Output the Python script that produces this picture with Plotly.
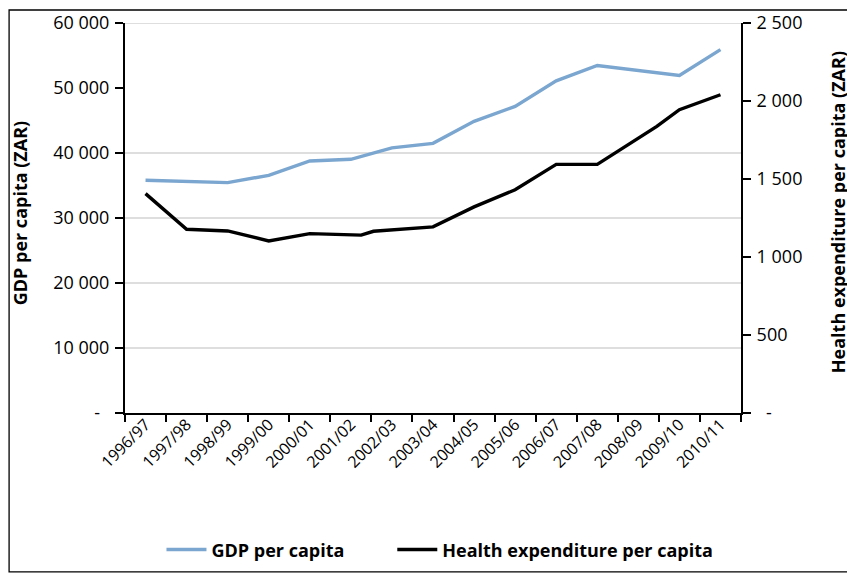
import plotly.graph_objects as go

# ---- data ----
years = ["1996/97", "1997/98", "1998/99", "1999/00", "2000/01", "2001/02", "2002/03",
         "2003/04", "2004/05", "2005/06", "2006/07", "2007/08", "2008/09", "2009/10", "2010/11"]
gdp_per_capita = [35800, 35650, 35450, 36570, 38770, 39030, 40800, 41490,
                  44870, 47170, 51100, 53470, 52700, 51930, 55900]
# health series points sit at (fractional) category positions in the original chart
health_pos = [0, 1, 2, 3, 4, 5.25, 5.55, 7, 8, 9, 10, 11, 12.45, 13, 14]
health_per_capita = [1406, 1178, 1167, 1103, 1150, 1140, 1165, 1193,
                     1321, 1431, 1594, 1594, 1837, 1944, 2040]

left_ticks = [0, 10000, 20000, 30000, 40000, 50000, 60000]
left_labels = ["-\u00a0\u00a0", "10 000", "20 000", "30 000", "40 000", "50 000", "60 000"]
right_ticks = [0, 500, 1000, 1500, 2000, 2500]
right_labels = ["\u00a0\u00a0-", "500", "1 000", "1 500", "2 000", "2 500"]
grid_values = [10000, 20000, 30000, 40000, 60000]

FONT = "Open Sans"
OFF = 8  # page body margin
W, H = 855 - OFF, 579 - OFF
# plot area in reference pixels: x 124.5..741, y 22.5..413
L, T = 124.5 - OFF, 22.5 - OFF
R, B = 855 - 741, 579 - 413
pw, ph = W - L - R, H - T - B

def px_x(p):  # reference pixel -> paper
    return (p - OFF - L) / pw

def px_y(p):
    return (T + ph - (p - OFF)) / ph

cat_idx = list(range(len(years)))
boundaries = [i - 0.5 for i in range(len(years) + 1)]

fig = go.Figure()
fig.add_trace(go.Scatter(
    x=cat_idx, y=gdp_per_capita, name="GDP per capita", mode="lines",
    line=dict(color="#7BA6CF", width=3.4), yaxis="y", legend="legend"))
fig.add_trace(go.Scatter(
    x=health_pos, y=health_per_capita, name="Health expenditure per capita", mode="lines",
    line=dict(color="#000000", width=3.4), yaxis="y2", legend="legend2"))

shapes = []
for g in grid_values:
    shapes.append(dict(type="line", xref="paper", yref="y", x0=0, x1=1, y0=g, y1=g,
                       line=dict(color="#D3D3D3", width=1.6), layer="below"))
shapes.append(dict(type="rect", xref="paper", yref="paper",
                   x0=px_x(8.5), x1=px_x(848.5), y0=px_y(572), y1=px_y(9.5),
                   line=dict(color="#000000", width=1.3), fillcolor="rgba(0,0,0,0)", layer="below"))

leg_font = dict(family=FONT, size=18, color="#000000", weight="bold")

fig.update_layout(
    width=W, height=H,
    margin=dict(l=L, r=R, t=T, b=B, autoexpand=False),
    paper_bgcolor="white", plot_bgcolor="white",
    font=dict(family=FONT, size=18, color="#000000"),
    showlegend=True,
    legend=dict(orientation="h", x=px_x(161), xanchor="left", y=px_y(550), yanchor="middle",
                font=leg_font, bgcolor="rgba(0,0,0,0)", itemwidth=40),
    legend2=dict(orientation="h", x=px_x(392), xanchor="left", y=px_y(550), yanchor="middle",
                 font=leg_font, bgcolor="rgba(0,0,0,0)", itemwidth=40),
    xaxis=dict(range=[-0.5, len(years) - 0.5], tickmode="array", tickvals=cat_idx, ticktext=years,
               ticks="", tickangle=-45, tickfont=dict(family=FONT, size=16), ticklabelstandoff=-6,
               showline=True, linecolor="#000000", linewidth=2, showgrid=False, zeroline=False,
               minor=dict(tickmode="array", tickvals=boundaries, ticks="outside", ticklen=7,
                          tickwidth=1.5, tickcolor="#000000", showgrid=False)),
    yaxis=dict(range=[0, 60000], tickmode="array", tickvals=left_ticks, ticktext=left_labels,
               ticks="outside", ticklen=8, tickwidth=1.5, tickcolor="#000000",
               showline=True, linecolor="#000000", linewidth=2, showgrid=False, zeroline=False,
               tickfont=dict(family=FONT, size=18), ticklabelstandoff=2),
    yaxis2=dict(range=[0, 2500], overlaying="y", side="right", tickmode="array",
                tickvals=right_ticks, ticktext=right_labels,
                ticks="outside", ticklen=8, tickwidth=1.5, tickcolor="#000000",
                showline=True, linecolor="#000000", linewidth=2, showgrid=False, zeroline=False,
                tickfont=dict(family=FONT, size=18), ticklabelstandoff=2),
    shapes=shapes,
    annotations=[
        dict(text="<b>GDP per capita (ZAR)</b>", textangle=-90, xref="paper", yref="paper",
             x=px_x(19.5), y=px_y(213), xanchor="center", yanchor="middle", showarrow=False,
             font=dict(family=FONT, size=18), borderpad=0),
        dict(text="<b>Health expenditure per capita (ZAR)</b>", textangle=-90, xref="paper", yref="paper",
             x=px_x(838), y=px_y(212), xanchor="center", yanchor="middle", showarrow=False,
             font=dict(family=FONT, size=18), borderpad=0),
    ],
)

fig.write_html("out.html")
